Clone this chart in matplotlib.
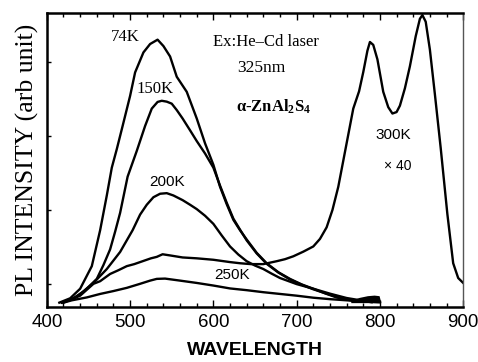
import matplotlib
matplotlib.use("Agg")
import matplotlib.pyplot as plt
from matplotlib.ticker import MultipleLocator, FixedLocator

# PL spectra (wavelength in nm, intensity in arb. units)
wl_74k = [415, 428, 440, 454, 464, 472, 478, 484, 491, 500, 506, 516, 524, 533,
          540, 548, 556, 568, 580, 590, 600, 608, 616, 624, 632, 640, 652, 664,
          678, 692, 706, 720, 735, 748, 765, 790]
pl_74k = [0, 1.5, 4.8, 12.6, 25, 37, 46.6, 53, 61, 71.4, 79.5, 86.4, 89.3, 90.8,
          88.6, 85, 78, 72.8, 63.6, 55, 47.6, 40, 34, 28.6, 25, 21.8, 17.2, 13.6,
          10.5, 8.2, 6.3, 4.8, 3.1, 1.8, 0.8, 0.2]

wl_150k = [418, 430, 445, 460, 468, 476, 482, 488, 497, 508, 518, 526, 533, 538,
           544, 550, 556, 563, 572, 580, 590, 600, 608, 616, 624, 632, 640, 652,
           664, 678, 692, 706, 720, 735, 750, 770, 790]
pl_150k = [0, 1.2, 4, 8.2, 13, 18.4, 24.5, 31, 43.5, 52.4, 61, 67, 69.3, 69.7,
           69.4, 68.7, 66.5, 63.6, 59.5, 55.8, 51.5, 46.6, 40.4, 34.5, 29, 25.2,
           21.5, 17, 13.4, 10.4, 8, 6.2, 4.6, 3.2, 1.8, 0.7, 0.2]

wl_200k = [420, 435, 456, 472, 488, 503, 512, 520, 528, 536, 544, 552, 563, 572,
           580, 590, 600, 610, 620, 630, 640, 650, 660, 670, 680, 700, 720, 740,
           760, 785]
pl_200k = [0, 1.8, 6.8, 11.6, 17.5, 25, 30.4, 33.8, 36.4, 37.6, 37.8, 37, 35.4, 33.8,
           32.3, 30, 27.2, 23.2, 19.4, 16.6, 14.3, 12.8, 11.6, 10, 8.5, 6.4, 4.8,
           3.1, 1.6, 0.4]

wl_250k = [420, 430, 448, 464, 480, 496, 512, 524, 532, 542, 560, 580, 600, 620,
           640, 660, 680, 700, 720, 740, 760, 780, 800]
pl_250k = [0, 0.8, 1.8, 3, 4, 5.1, 6.5, 7.6, 8.2, 8.3, 7.6, 6.8, 5.9, 4.9,
           4.3, 3.6, 3, 2.4, 1.7, 1.2, 0.8, 0.4, 0.1]

# 300K spectrum, multiplied by 40
wl_300k = [418, 428, 440, 456, 464, 476, 486, 496, 505, 515, 525, 532, 539, 548,
           563, 580, 600, 620, 632, 645, 660, 676, 686, 696, 708, 720, 728, 736,
           743, 750, 758, 768, 775, 780, 785, 788, 792, 797, 804, 810, 815, 820,
           824, 830, 836, 843, 848, 851, 855, 860, 866, 873, 881, 888, 894, 900]
pl_300k = [0, 1, 2.4, 6.5, 7.4, 9.9, 11.2, 12.6, 13.3, 14.3, 15.3, 15.8, 16.7, 16.3,
           15.6, 15.3, 14.8, 14, 13.6, 13.3, 13.3, 14.3, 15, 16, 17.6, 19.4, 22, 26,
           32, 40, 52, 67, 73, 79.6, 87, 90, 89, 84, 72.8, 67.5, 65.3, 65.8,
           68, 74, 81.6, 92, 98, 99.3, 97, 87.4, 72, 53.4, 30.6, 13.6, 8.5, 6.8]

# dark smudge near the baseline around 770-800 nm
wl_blob = [765, 775, 785, 793, 799, 801]
pl_blob = [0.8, 1.8, 2.4, 2.6, 2.4, 0.2]

serif = "Liberation Serif"
sans = "Liberation Sans"
plt.rcParams["mathtext.fontset"] = "custom"
plt.rcParams["mathtext.rm"] = serif
plt.rcParams["mathtext.bf"] = serif + ":bold"
plt.rcParams["mathtext.it"] = serif + ":italic"

fig = plt.figure(figsize=(4.78, 3.62), dpi=100)
ax = fig.add_axes([0.098, 0.152, 0.871, 0.812])

for wl, pl in [(wl_74k, pl_74k), (wl_150k, pl_150k), (wl_200k, pl_200k),
               (wl_250k, pl_250k), (wl_300k, pl_300k)]:
    ax.plot(wl, pl, color="black", lw=1.7, solid_joinstyle="round")

ax.fill_between(wl_blob, 0, pl_blob, color="black", lw=0)

ax.set_xlim(400, 900)
ax.set_ylim(-1.5, 100)

ax.xaxis.set_major_locator(MultipleLocator(100))
ax.xaxis.set_minor_locator(MultipleLocator(20))
ax.yaxis.set_major_locator(FixedLocator([6.5, 32, 57.5, 83]))
ax.tick_params(axis="x", which="major", direction="in", length=5, width=1,
               top=True, labelsize=13.5, pad=5)
ax.tick_params(axis="x", which="minor", direction="in", length=3, width=1, top=True)
ax.tick_params(axis="y", which="major", direction="in", length=3, width=1,
               labelleft=False)
for lab in ax.get_xticklabels():
    lab.set_fontfamily(sans)

for side in ["left", "bottom", "top"]:
    ax.spines[side].set_linewidth(1.8)
ax.spines["right"].set_linewidth(1.0)
ax.spines["right"].set_color("#555555")

ax.set_xlabel("WAVELENGTH", fontfamily=sans, fontweight="bold", fontsize=14,
              labelpad=8)
ax.set_ylabel("PL INTENSITY (arb unit)", fontfamily=serif, fontsize=18.5,
              labelpad=6)

# curve labels
ax.text(494, 91.8, "74K", fontfamily=serif, fontsize=12,
        ha="center", va="center")
ax.text(530, 73.8, "150K", fontfamily=serif, fontsize=12,
        ha="center", va="center")
ax.text(544, 41.8, "200K", fontfamily=sans, fontsize=11, ha="center", va="center")
ax.text(622, 9.4, "250K", fontfamily=sans, fontsize=11, ha="center", va="center")
ax.text(816, 57.8, "300K", fontfamily=sans, fontsize=11, ha="center", va="center")
ax.text(821, 47.3, "\u00d7 40", fontfamily=sans, fontsize=10, ha="center", va="center")

# annotations
ax.text(663, 90.1, "Ex:He\u2013Cd laser", fontfamily=serif, fontsize=12,
        ha="center", va="center")
ax.text(658, 81, "325nm", fontfamily=serif, fontsize=12.5, ha="center", va="center")
ax.text(672, 67.7, r"$\mathbf{\alpha}$-ZnAl$_\mathbf{2}$S$_\mathbf{4}$",
        fontfamily=serif, fontweight="bold", fontsize=12, ha="center", va="center")

fig.savefig("out.png", dpi=100)
